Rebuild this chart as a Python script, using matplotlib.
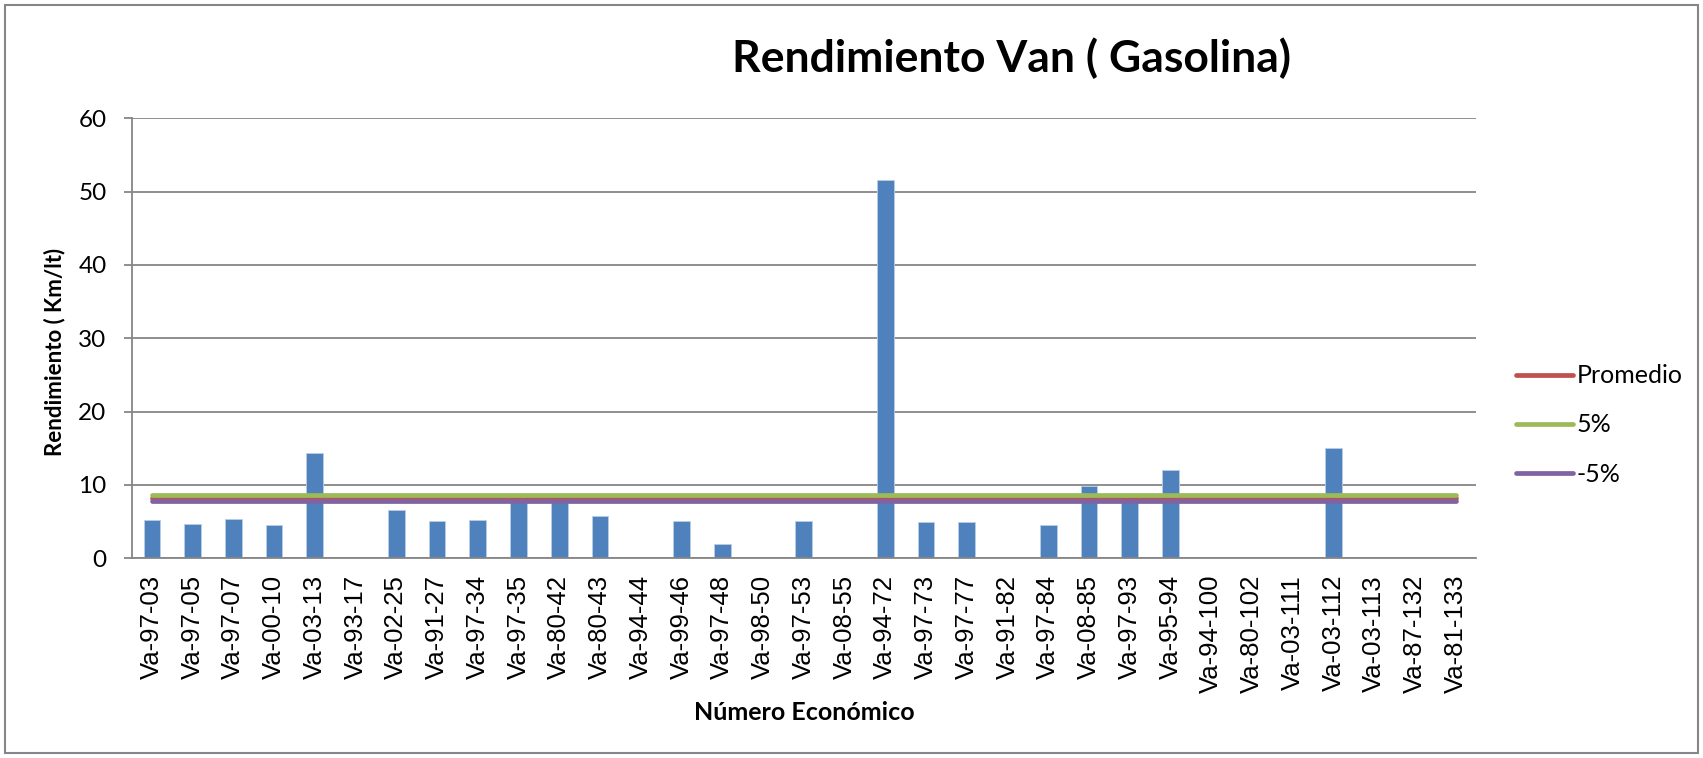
import matplotlib
matplotlib.use("Agg")
import matplotlib.pyplot as plt
from matplotlib.lines import Line2D
from matplotlib.patches import Rectangle
import numpy as np

# datos
unidades = ["Va-97-03", "Va-97-05", "Va-97-07", "Va-00-10", "Va-03-13", "Va-93-17",
            "Va-02-25", "Va-91-27", "Va-97-34", "Va-97-35", "Va-80-42", "Va-80-43",
            "Va-94-44", "Va-99-46", "Va-97-48", "Va-98-50", "Va-97-53", "Va-08-55",
            "Va-94-72", "Va-97-73", "Va-97-77", "Va-91-82", "Va-97-84", "Va-08-85",
            "Va-97-93", "Va-95-94", "Va-94-100", "Va-80-102", "Va-03-111", "Va-03-112",
            "Va-03-113", "Va-87-132", "Va-81-133"]
rendimiento = [5.2, 4.7, 5.3, 4.6, 14.3, 0, 6.6, 5.1, 5.2, 8.0, 8.0, 5.8,
               0, 5.1, 2.0, 0, 5.1, 0, 51.6, 5.0, 4.9, 0, 4.6, 9.8,
               8.0, 12.1, 0, 0, 0, 15.1, 0, 0, 0]
promedio = 8.2
mas_5 = promedio * 1.05
menos_5 = promedio * 0.95

W, H = 1703, 758
fig = plt.figure(figsize=(W / 100, H / 100), dpi=100)
plt.rcParams['font.family'] = ['Lato', 'DejaVu Sans']

ax = fig.add_axes([131.5 / W, 1 - 558.3 / H, (1476 - 131.5) / W, (558.3 - 118.3) / H])

x = np.arange(len(unidades))
ax.bar(x, rendimiento, width=0.41, color='#4F81BD', edgecolor='#B9CDE5', linewidth=0.6, zorder=2)

n = len(unidades)
ax.plot(x, [promedio] * n, color='#C0504D', lw=3.4, solid_capstyle='round', zorder=3)
ax.plot(x, [mas_5] * n, color='#9BBB59', lw=3.4, solid_capstyle='round', zorder=3)
ax.plot(x, [menos_5] * n, color='#8064A2', lw=3.4, solid_capstyle='round', zorder=3)

ax.set_xlim(-0.5, n - 0.5)
ax.set_ylim(0, 60)
ax.set_yticks(range(0, 61, 10))
ax.yaxis.grid(True, color='#868686', lw=1.3, zorder=0)
ax.set_axisbelow(True)
for s in ['top', 'right']:
    ax.spines[s].set_visible(False)
ax.spines['left'].set_color('#868686')
ax.spines['bottom'].set_color('#868686')
ax.spines['left'].set_linewidth(1.3)
ax.spines['bottom'].set_linewidth(1.3)

ax.set_xticks(x)
ax.set_xticklabels(unidades, rotation=90, fontsize=18.5, family=['Liberation Sans', 'DejaVu Sans'])
ax.tick_params(axis='x', length=0, pad=12)
ax.tick_params(axis='y', length=6, width=1.3, color='#868686', labelsize=17.5, pad=12)

fig.text(1012 / W, 1 - 58 / H, "Rendimiento Van ( Gasolina)", fontsize=32, fontweight='bold',
         ha='center', va='center')
fig.text(804 / W, 1 - 712 / H, "Número Económico", fontsize=18, fontweight='bold',
         ha='center', va='center')
fig.text(55 / W, 1 - 352 / H, "Rendimiento ( Km/lt)", fontsize=16, fontweight='bold',
         ha='center', va='center', rotation=90)

handles = [Line2D([], [], color='#C0504D', lw=3.4, solid_capstyle='round'),
           Line2D([], [], color='#9BBB59', lw=3.4, solid_capstyle='round'),
           Line2D([], [], color='#8064A2', lw=3.4, solid_capstyle='round')]
fig.legend(handles, ["Promedio", "5%", "-5%"], loc='center left',
           bbox_to_anchor=(1503 / W, 1 - 425 / H), frameon=False, fontsize=18,
           handlelength=2.3, handletextpad=0.15, labelspacing=1.05, borderpad=0)

fig.add_artist(Rectangle((5 / W, 5 / H), (W - 10) / W, (H - 10) / H, transform=fig.transFigure,
                         fill=False, edgecolor='#868686', lw=1.5))

fig.savefig("out.png", dpi=100)
